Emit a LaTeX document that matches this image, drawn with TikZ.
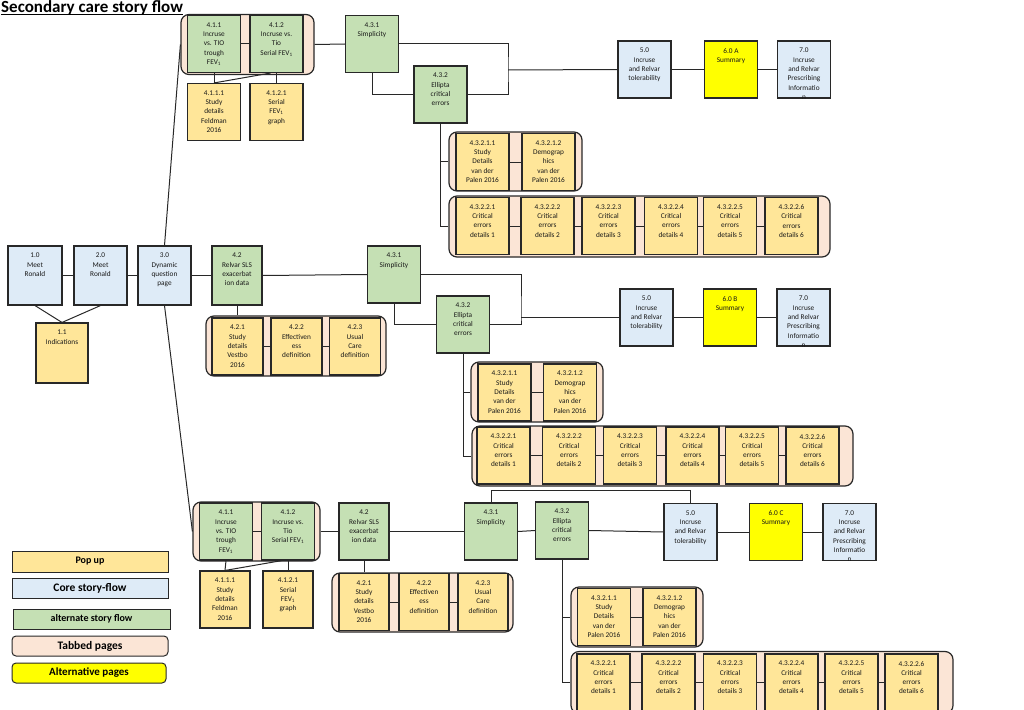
\documentclass[tikz,border=0pt]{standalone}
\usepackage{fontspec}
\setmainfont{Carlito}
\definecolor{popfill}{RGB}{255,230,153}
\definecolor{corefill}{RGB}{222,235,247}
\definecolor{altfill}{RGB}{197,224,180}
\definecolor{tabfill}{RGB}{251,229,214}
\definecolor{yelfill}{RGB}{255,255,0}
\definecolor{edge}{RGB}{40,40,40}
\newcommand\cellfont{\fontsize{7.3}{9.3}\selectfont}
\tikzset{
  box/.style={draw=edge, line width=1.1pt, minimum width=53pt, minimum height=57pt, inner sep=0pt},
  popup/.style={box, fill=popfill},
  core/.style={box, fill=corefill},
  alt/.style={box, fill=altfill},
  altpage/.style={box, fill=yelfill},
  tabbed/.style={draw=edge, line width=1.2pt, fill=tabfill, rounded corners=8pt, inner sep=0pt},
  txt/.style={label={[anchor=north, align=center, font=\cellfont, text=black!90, inner sep=0pt, yshift=-7.5pt]north:#1}},
  link/.style={draw=edge, line width=1pt},
  legend/.style={draw=edge, line width=1pt, minimum width=156pt, minimum height=20pt, inner sep=0pt, font=\bfseries},
}
\begin{document}
\begin{tikzpicture}[x=1pt, y=-1pt]
      \useasboundingbox (0,0) rectangle (1024,709);
      \node[anchor=base west, inner sep=0pt, font=\bfseries\fontsize{17}{17}\selectfont] (title) at (1,13) {Secondary care story flow};
      \draw[line width=1pt] ([yshift=-1.8pt]title.base west) -- ([yshift=-1.8pt]title.base east);

      \node[tabbed, minimum width=133pt, minimum height=60pt] (tab41a) at (247.5,44.5) {};
      \node[alt, txt={4.1.1\\Incruse\\vs. TIO\\trough\\FEV\textsubscript{1}}] (n411a) at (214,44) {};
      \node[alt, txt={4.1.2\\Incruse vs.\\Tio\\Serial FEV\textsubscript{1}}] (n412a) at (276.5,44) {};
      \node[popup, txt={4.1.1.1\\Study\\details\\Feldman\\2016}] (n4111a) at (214,112) {};
      \node[popup, txt={4.1.2.1\\Serial\\FEV\textsubscript{1}\\graph}] (n4121a) at (276.5,112) {};
      \node[alt, txt={4.3.1\\Simplicity}] (n431a) at (372,44) {};
      \node[alt, txt={4.3.2\\Ellipta\\critical\\errors}] (n432a) at (440.5,94.5) {};
      \node[core, txt={5.0\\Incruse\\and Relvar\\tolerability}] (n50a) at (644.5,69.5) {};
      \node[altpage, txt={6.0 A\\Summary}] (n60a) at (731,69.5) {};
      \node[core, txt={7.0\\Incruse\\and Relvar\\Prescribing\\Informatio\\n}] (n70a) at (804,69.5) {};
      \node[tabbed, minimum width=133pt, minimum height=59pt] (tab4321a) at (515.5,161.5) {};
      \node[popup, txt={4.3.2.1.1\\Study\\Details\\van der\\Palen 2016}] (n43211a) at (482.5,162) {};
      \node[popup, txt={4.3.2.1.2\\Demograp\\hics\\van der\\Palen 2016}] (n43212a) at (548.5,162) {};
      \node[tabbed, minimum width=381pt, minimum height=61pt] (tab4322a) at (639.5,226.5) {};
      \node[popup, txt={4.3.2.2.1\\Critical\\errors\\details 1}] (n43221a) at (482.5,226) {};
      \node[popup, txt={4.3.2.2.2\\Critical\\errors\\details 2}] (n43222a) at (547.5,226) {};
      \node[popup, txt={4.3.2.2.3\\Critical\\errors\\details 3}] (n43223a) at (608.5,226) {};
      \node[popup, txt={4.3.2.2.4\\Critical\\errors\\details 4}] (n43224a) at (671,226) {};
      \node[popup, txt={4.3.2.2.5\\Critical\\errors\\details 5}] (n43225a) at (730,226) {};
      \node[popup, txt={4.3.2.2.6\\Critical\\errors\\details 6}] (n43226a) at (791.5,226) {};
      \coordinate (jA) at (508,70);

      \node[core, minimum width=54pt, minimum height=59pt, txt={1.0\\Meet\\Ronald}] (n10) at (35,275.5) {};
      \node[core, minimum height=59pt, txt={2.0\\Meet\\Ronald}] (n20) at (100.5,275.5) {};
      \node[core, minimum height=59pt, txt={3.0\\Dynamic\\question\\page}] (n30) at (164.5,275.5) {};
      \node[popup, minimum width=52pt, minimum height=60pt, txt={1.1\\Indications}] (n11) at (62,353) {};
      \node[alt, minimum width=50pt, minimum height=59pt, txt={4.2\\Relvar SLS\\exacerbat\\ion data}] (n42b) at (237,275.5) {};
      \node[tabbed, minimum width=180pt, minimum height=60pt] (tab42b) at (296,346) {};
      \node[popup, minimum width=51pt, txt={4.2.1\\Study\\details\\Vestbo\\2016}] (n421b) at (237.5,346.5) {};
      \node[popup, minimum width=51pt, txt={4.2.2\\Effectiven\\ess\\definition}] (n422b) at (296.5,346.5) {};
      \node[popup, minimum width=51pt, txt={4.2.3\\Usual\\Care\\definition}] (n423b) at (355,346.5) {};
      \node[alt, txt={4.3.1\\Simplicity}] (n431b) at (394,274.5) {};
      \node[alt, txt={4.3.2\\Ellipta\\critical\\errors}] (n432b) at (463,324.5) {};
      \node[core, txt={5.0\\Incruse\\and Relvar\\tolerability}] (n50b) at (646.5,317.5) {};
      \node[altpage, txt={6.0 B\\Summary}] (n60b) at (730,317.5) {};
      \node[core, txt={7.0\\Incruse\\and Relvar\\Prescribing\\Informatio\\n}] (n70b) at (803.5,317.5) {};
      \node[tabbed, minimum width=132pt, minimum height=60pt] (tab4321b) at (537,392) {};
      \node[popup, txt={4.3.2.1.1\\Study\\Details\\van der\\Palen 2016}] (n43211b) at (504.5,392.5) {};
      \node[popup, txt={4.3.2.1.2\\Demograp\\hics\\van der\\Palen 2016}] (n43212b) at (570,392.5) {};
      \node[tabbed, minimum width=381pt, minimum height=60pt] (tab4322b) at (662.5,456) {};
      \node[popup, txt={4.3.2.2.1\\Critical\\errors\\details 1}] (n43221b) at (503.5,455.5) {};
      \node[popup, txt={4.3.2.2.2\\Critical\\errors\\details 2}] (n43222b) at (569,455.5) {};
      \node[popup, txt={4.3.2.2.3\\Critical\\errors\\details 3}] (n43223b) at (630,455.5) {};
      \node[popup, txt={4.3.2.2.4\\Critical\\errors\\details 4}] (n43224b) at (692.5,455.5) {};
      \node[popup, txt={4.3.2.2.5\\Critical\\errors\\details 5}] (n43225b) at (752,455.5) {};
      \node[popup, txt={4.3.2.2.6\\Critical\\errors\\details 6}] (n43226b) at (812.5,455.5) {};
      \coordinate (jB) at (521,317.5);

      \node[tabbed, minimum width=127pt, minimum height=59pt] (tab41c) at (256.5,531.5) {};
      \node[alt, txt={4.1.1\\Incruse\\vs. TIO\\trough\\FEV\textsubscript{1}}] (n411c) at (226,531.5) {};
      \node[alt, txt={4.1.2\\Incruse vs.\\Tio\\Serial FEV\textsubscript{1}}] (n412c) at (288,531.5) {};
      \node[popup, minimum width=50pt, txt={4.1.1.1\\Study\\details\\Feldman\\2016}] (n4111c) at (225,599.5) {};
      \node[popup, minimum width=50pt, txt={4.1.2.1\\Serial\\FEV\textsubscript{1}\\graph}] (n4121c) at (288,599.5) {};
      \node[alt, minimum width=50pt, txt={4.2\\Relvar SLS\\exacerbat\\ion data}] (n42c) at (364,531.5) {};
      \node[tabbed, minimum width=181pt, minimum height=59pt] (tab42c) at (422.5,602.5) {};
      \node[popup, minimum width=50pt, txt={4.2.1\\Study\\details\\Vestbo\\2016}] (n421c) at (364,602) {};
      \node[popup, minimum width=50pt, txt={4.2.2\\Effectiven\\ess\\definition}] (n422c) at (424,602) {};
      \node[popup, minimum width=50pt, txt={4.2.3\\Usual\\Care\\definition}] (n423c) at (483,602) {};
      \node[alt, txt={4.3.1\\Simplicity}] (n431c) at (491,531.5) {};
      \node[alt, txt={4.3.2\\Ellipta\\critical\\errors}] (n432c) at (562,530.5) {};
      \node[core, txt={5.0\\Incruse\\and Relvar\\tolerability}] (n50c) at (690.5,532) {};
      \node[altpage, txt={6.0 C\\Summary}] (n60c) at (776,532) {};
      \node[core, txt={7.0\\Incruse\\and Relvar\\Prescribing\\Informatio\\n}] (n70c) at (849.5,532) {};
      \node[tabbed, minimum width=132pt, minimum height=60pt] (tab4321c) at (637,617) {};
      \node[popup, txt={4.3.2.1.1\\Study\\Details\\van der\\Palen 2016}] (n43211c) at (604,617) {};
      \node[popup, txt={4.3.2.1.2\\Demograp\\hics\\van der\\Palen 2016}] (n43212c) at (669.5,617) {};
      \node[tabbed, minimum width=382pt, minimum height=62pt] (tab4322c) at (762,682.5) {};
      \node[popup, txt={4.3.2.2.1\\Critical\\errors\\details 1}] (n43221c) at (603.5,682.5) {};
      \node[popup, txt={4.3.2.2.2\\Critical\\errors\\details 2}] (n43222c) at (668.5,682.5) {};
      \node[popup, txt={4.3.2.2.3\\Critical\\errors\\details 3}] (n43223c) at (730,682.5) {};
      \node[popup, txt={4.3.2.2.4\\Critical\\errors\\details 4}] (n43224c) at (791.5,682.5) {};
      \node[popup, txt={4.3.2.2.5\\Critical\\errors\\details 5}] (n43225c) at (851.5,682.5) {};
      \node[popup, txt={4.3.2.2.6\\Critical\\errors\\details 6}] (n43226c) at (911.5,682.5) {};

      \draw[link] (n411a.east) -- (n412a.west);
      \draw[link] (n411a.south) -- (n4111a.north);
      \draw[link] (n4111a.north) -- ([xshift=-6pt]n412a.south);
      \draw[link] (n412a.south) -- (n4121a.north);
      \draw[link] (tab41a.east) -- (n431a.west);
      \draw[link] (n431a.east) -| (jA) |- (n432a.east);
      \draw[link] (n431a.south) |- (n432a.west);
      \draw[link] (jA) -- (n50a.west);
      \draw[link] (n50a.east) -- (n60a.west);
      \draw[link] (n60a.east) -- (n70a.west);
      \draw[link] (n432a.south) |- (tab4321a.west);
      \draw[link] (n432a.south) |- (tab4322a.west);
      \draw[link] (n43211a.east) -- (n43212a.west);
      \draw[link] (n43221a.east) -- (n43222a.west);
      \draw[link] (n43222a.east) -- (n43223a.west);
      \draw[link] (n43223a.east) -- (n43224a.west);
      \draw[link] (n43224a.east) -- (n43225a.west);
      \draw[link] (n43225a.east) -- (n43226a.west);

      \draw[link] (n10.east) -- (n20.west);
      \draw[link] (n20.east) -- (n30.west);
      \draw[link] (n30.east) -- (n42b.west);
      \draw[link] (n42b.east) -- (n431b.west);
      \draw[link] (n10.south) -- (n11.north);
      \draw[link] (n20.south) -- (n11.north);
      \draw[link] (n30.north) -- (tab41a.west);
      \draw[link] (n30.south) -- (tab41c.west);
      \draw[link] (n42b.south) -- (n42b.south |- tab42b.north);
      \draw[link] (n421b.east) -- (n422b.west);
      \draw[link] (n422b.east) -- (n423b.west);
      \draw[link] (n431b.east) -| (jB) |- (n432b.east);
      \draw[link] (n431b.south) |- (n432b.west);
      \draw[link] (jB) -- (n50b.west);
      \draw[link] (n50b.east) -- (n60b.west);
      \draw[link] (n60b.east) -- (n70b.west);
      \draw[link] (n432b.south) |- (tab4321b.west);
      \draw[link] (n432b.south) |- (tab4322b.west);
      \draw[link] (n43211b.east) -- (n43212b.west);
      \draw[link] (n43221b.east) -- (n43222b.west);
      \draw[link] (n43222b.east) -- (n43223b.west);
      \draw[link] (n43223b.east) -- (n43224b.west);
      \draw[link] (n43224b.east) -- (n43225b.west);
      \draw[link] (n43225b.east) -- (n43226b.west);

      \draw[link] (n411c.east) -- (n412c.west);
      \draw[link] (n411c.south) -- (n4111c.north);
      \draw[link] (n4111c.north) -- ([xshift=-6pt]n412c.south);
      \draw[link] (n412c.south) -- (n4121c.north);
      \draw[link] (tab41c.east) -- (n42c.west);
      \draw[link] (n42c.east) -- (n431c.west);
      \draw[link] (n42c.south) -- (n42c.south |- tab42c.north);
      \draw[link] (n421c.east) -- (n422c.west);
      \draw[link] (n422c.east) -- (n423c.west);
      \draw[link] (n431c.east) -- (n432c.west);
      \draw[link] (n431c.north) -- ++(0,-12) -| (n50c.north);
      \draw[link] (n432c.east) -- (n50c.west);
      \draw[link] (n50c.east) -- (n60c.west);
      \draw[link] (n60c.east) -- (n70c.west);
      \draw[link] (n432c.south) |- (tab4321c.west);
      \draw[link] (n432c.south) |- (tab4322c.west);
      \draw[link] (n43211c.east) -- (n43212c.west);
      \draw[link] (n43221c.east) -- (n43222c.west);
      \draw[link] (n43222c.east) -- (n43223c.west);
      \draw[link] (n43223c.east) -- (n43224c.west);
      \draw[link] (n43224c.east) -- (n43225c.west);
      \draw[link] (n43225c.east) -- (n43226c.west);

      \node[legend, fill=popfill, minimum height=21pt, font=\bfseries\fontsize{10}{10}\selectfont] (lgpop) at (90,561.5) {Pop up};
      \node[legend, fill=corefill, font=\bfseries\fontsize{11.5}{11.5}\selectfont] (lgcore) at (90,588) {Core story-flow};
      \node[legend, fill=altfill, minimum width=157pt, font=\bfseries\fontsize{10}{10}\selectfont] (lgalt) at (91.5,619) {alternate story flow};
      \node[legend, fill=tabfill, rounded corners=4pt, font=\bfseries\fontsize{11.5}{11.5}\selectfont] (lgtab) at (90,646) {Tabbed pages};
      \node[legend, fill=yelfill, minimum width=154pt, rounded corners=4pt, font=\bfseries\fontsize{11}{11}\selectfont] (lgaltp) at (89,673) {Alternative pages};
\end{tikzpicture}
\end{document}
